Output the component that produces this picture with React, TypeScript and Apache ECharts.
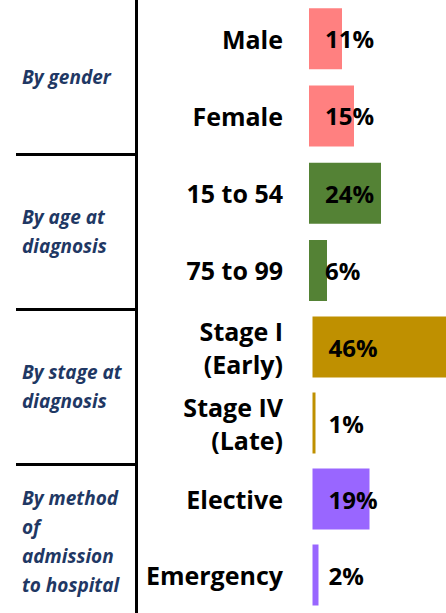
import React, { useEffect, useRef } from "react";
import * as echarts from "echarts";

const groupLabels = ["By gender", "By age at\ndiagnosis", "By stage at\ndiagnosis", "By method\nof\nadmission\nto hospital"];
const categories = ["Male", "Female", "15 to 54", "75 to 99", "Stage I\n(Early)", "Stage IV\n(Late)", "Elective", "Emergency"];
const values = [11, 15, 24, 6, 46, 1, 19, 2];
const groupOfCategory = [0, 0, 1, 1, 2, 2, 3, 3];
const groupColors = ["#FF8080", "#548235", "#BF9000", "#9966FF"];

const FONT = "'Open Sans', 'Noto Sans', sans-serif";
const SLOT = 77.5;
const TOP = -1;
const PX_PER_UNIT = 3;

export default function App() {
  const ref = useRef<HTMLDivElement>(null);
  useEffect(() => {
    if (!ref.current) return;
    const chart = echarts.init(ref.current, undefined, { renderer: "svg" });
    const halves = [0, 1];
    const gridLefts = [309, 312.5];
    const grids = halves.map((h) => ({
      left: gridLefts[h],
      top: TOP + h * 4 * SLOT,
      height: 4 * SLOT,
      right: 0,
      containLabel: false,
    }));
    const xAxes = halves.map((h) => ({
      type: "value",
      gridIndex: h,
      min: 0,
      max: (446 - gridLefts[h]) / PX_PER_UNIT,
      show: false,
    }));
    const yAxes = halves.map((h) => ({
      type: "category",
      gridIndex: h,
      inverse: true,
      data: categories.slice(h * 4, h * 4 + 4),
      axisLine: { show: false },
      axisTick: { show: false },
      splitLine: { show: false },
      axisLabel: {
        margin: gridLefts[h] - 283,
        fontFamily: FONT,
        fontWeight: "bold",
        fontSize: 25,
        lineHeight: 33,
        color: "#000",
        align: "right",
      },
    }));
    const series = halves.map((h) => ({
      type: "bar",
      xAxisIndex: h,
      yAxisIndex: h,
      barWidth: 61,
      clip: false,
      data: values.slice(h * 4, h * 4 + 4).map((v, i) => ({
        value: v,
        itemStyle: { color: groupColors[groupOfCategory[h * 4 + i]] },
      })),
      label: {
        show: true,
        position: "insideLeft",
        distance: 16,
        formatter: "{c}%",
        fontFamily: FONT,
        fontWeight: "bold",
        fontSize: 24,
        color: "#000",
        textBorderWidth: 0,
      },
    }));
    const graphics: any[] = [];
    graphics.push({
      type: "line",
      shape: { x1: 136.5, y1: 0, x2: 136.5, y2: 613 },
      style: { stroke: "#000", lineWidth: 3 },
    });
    [1, 2, 3].forEach((k) => {
      const y = TOP + k * 2 * SLOT + 0.5;
      graphics.push({
        type: "line",
        shape: { x1: 16, y1: y, x2: 137, y2: y },
        style: { stroke: "#000", lineWidth: 3 },
      });
    });
    groupLabels.forEach((g, k) => {
      graphics.push({
        type: "text",
        x: 22,
        y: TOP + (2 * k + 1) * SLOT,
        style: {
          text: g,
          font: `italic bold 19px ${FONT}`,
          fill: "#1F3864",
          align: "left",
          verticalAlign: "middle",
          lineHeight: 29,
        },
      });
    });
    chart.setOption({
      animation: false,
      backgroundColor: "#fff",
      grid: grids,
      xAxis: xAxes,
      yAxis: yAxes,
      series,
      graphic: graphics,
    });
    return () => chart.dispose();
  }, []);
  return <div ref={ref} style={{ position: "fixed", left: 0, top: 0, width: 446, height: 613 }} />;
}
